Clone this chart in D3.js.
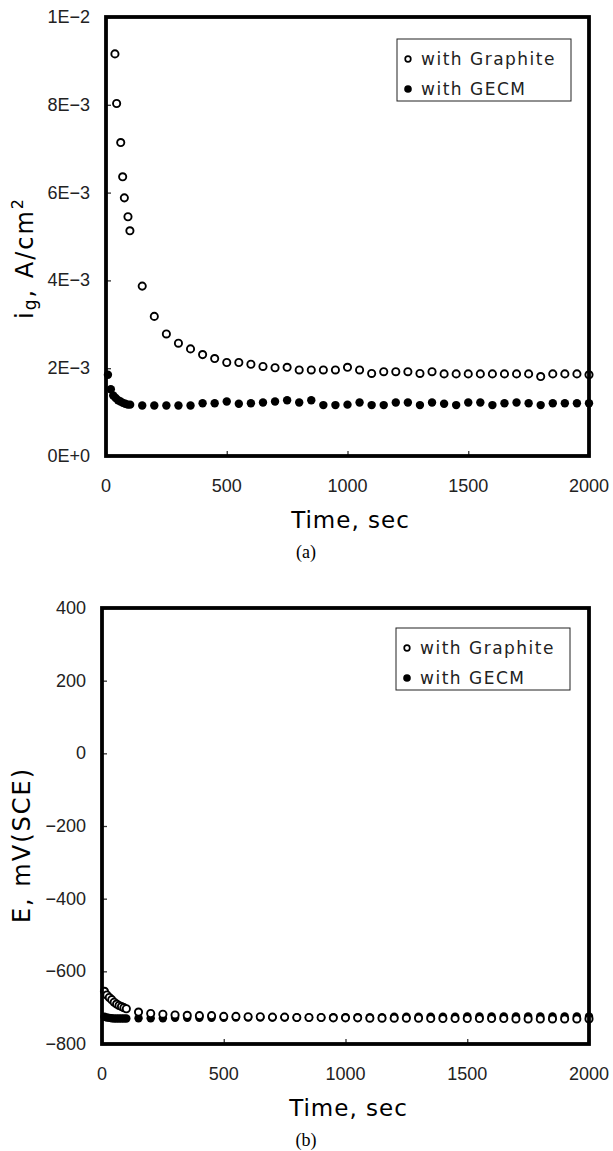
<!DOCTYPE html>
<html><head><meta charset="utf-8">
<script src="https://cdn.jsdelivr.net/npm/d3@7"></script>
<style>
html,body{margin:0;padding:0;background:#fff;}
svg{display:block;}
</style></head>
<body>
<svg id="c" width="613" height="1151"></svg>
<script>
// ---- Data: chart (a) current density ----
const timeA_graphite = [37,44,61,69,76,91,99,150,200,250,300,350,400,450,500,550,600,650,700,750,800,850,900,950,1000,1050,1100,1150,1200,1250,1300,1350,1400,1450,1500,1550,1600,1650,1700,1750,1800,1850,1900,1950,2000];
const igGraphite = [9.16e-3,8.03e-3,7.14e-3,6.36e-3,5.88e-3,5.45e-3,5.13e-3,3.87e-3,3.18e-3,2.78e-3,2.57e-3,2.44e-3,2.31e-3,2.22e-3,2.13e-3,2.13e-3,2.09e-3,2.04e-3,2.01e-3,2.02e-3,1.96e-3,1.96e-3,1.96e-3,1.96e-3,2.02e-3,1.96e-3,1.88e-3,1.92e-3,1.92e-3,1.92e-3,1.88e-3,1.92e-3,1.87e-3,1.87e-3,1.87e-3,1.87e-3,1.87e-3,1.87e-3,1.87e-3,1.87e-3,1.81e-3,1.87e-3,1.87e-3,1.87e-3,1.85e-3];
const timeA_gecm = [8,20,30,40,50,60,70,80,90,100,150,200,250,300,350,400,450,500,550,600,650,700,750,800,850,900,950,1000,1050,1100,1150,1200,1250,1300,1350,1400,1450,1500,1550,1600,1650,1700,1750,1800,1850,1900,1950,2000];
const igGecm = [1.85e-3,1.52e-3,1.38e-3,1.32e-3,1.27e-3,1.24e-3,1.21e-3,1.19e-3,1.17e-3,1.17e-3,1.15e-3,1.15e-3,1.15e-3,1.15e-3,1.15e-3,1.20e-3,1.20e-3,1.24e-3,1.19e-3,1.20e-3,1.22e-3,1.24e-3,1.27e-3,1.22e-3,1.27e-3,1.16e-3,1.16e-3,1.17e-3,1.22e-3,1.16e-3,1.16e-3,1.22e-3,1.22e-3,1.16e-3,1.22e-3,1.19e-3,1.16e-3,1.22e-3,1.22e-3,1.16e-3,1.20e-3,1.22e-3,1.20e-3,1.16e-3,1.20e-3,1.20e-3,1.20e-3,1.20e-3];
const yTicksA = [0,0.002,0.004,0.006,0.008,0.01];
const yTickLabelsA = ["0E+0","2E\u22123","4E\u22123","6E\u22123","8E\u22123","1E\u22122"];

// ---- Data: chart (b) potential ----
const timeB_graphite = [10,20,30,40,50,60,70,80,90,100,150,200,250,300,350,400,450,500,550,600,650,700,750,800,850,900,950,1000,1050,1100,1150,1200,1250,1300,1350,1400,1450,1500,1550,1600,1650,1700,1750,1800,1850,1900,1950,2000];
const eGraphite = [-655,-665,-672,-678,-685,-690,-694,-697,-700,-703,-712,-716,-718,-720,-721,-722,-722,-724,-724,-725,-725,-726,-726,-727,-727,-727,-728,-728,-728,-729,-729,-729,-729,-729,-730,-730,-730,-730,-730,-730,-730,-731,-731,-731,-731,-731,-731,-731];
const timeB_gecm = [10,20,30,40,50,60,70,80,90,100,150,200,250,300,350,400,450,500,550,600,650,700,750,800,850,900,950,1000,1050,1100,1150,1200,1250,1300,1350,1400,1450,1500,1550,1600,1650,1700,1750,1800,1850,1900,1950,2000];
const eGecm = [-725,-727,-728,-729,-730,-730,-730,-730,-730,-730,-729,-729,-729,-728,-728,-728,-728,-728,-727,-727,-727,-727,-727,-727,-727,-727,-726,-726,-726,-726,-726,-725,-725,-725,-725,-725,-725,-724,-724,-724,-724,-724,-724,-724,-724,-724,-724,-724];
const yTicksB = [-800,-600,-400,-200,0,200,400];
const yTickLabelsB = ["\u2212800","\u2212600","\u2212400","\u2212200","0","200","400"];

const xTicks = [0,500,1000,1500,2000];
const xTickLabels = ["0","500","1000","1500","2000"];
const seriesNames = ["with Graphite","with GECM"];

const svg = d3.select("#c");
const tickFont = "'Liberation Sans', Arial, sans-serif";
const titleFont = "'DejaVu Sans', sans-serif";

function drawChart(o){
  const x = d3.scaleLinear().domain([0,2000]).range([o.left,o.right]);
  const y = d3.scaleLinear().domain(o.yDomain).range([o.bottom,o.top]);
  const g = svg.append("g");

  // inward ticks
  const xAxis = d3.axisTop(x).tickValues(xTicks).tickSize(5).tickFormat("");
  g.append("g").attr("transform",`translate(0,${o.bottom})`).call(xAxis)
    .call(s=>{s.select(".domain").remove(); s.selectAll("line").attr("stroke","#333").attr("stroke-width",1.3);});
  const yAxis = d3.axisRight(y).tickValues(o.yTicks).tickSize(5).tickFormat("");
  g.append("g").attr("transform",`translate(${o.left},0)`).call(yAxis)
    .call(s=>{s.select(".domain").remove(); s.selectAll("line").attr("stroke","#333").attr("stroke-width",1.3);});

  // tick labels
  g.append("g").selectAll("text").data(xTicks).join("text")
    .attr("x",d=>x(d)).attr("y",o.bottom+36)
    .attr("text-anchor","middle").attr("font-family",tickFont).attr("font-size",18)
    .attr("fill","#222").text((d,i)=>xTickLabels[i]);
  g.append("g").selectAll("text").data(o.yTicks).join("text")
    .attr("x",o.left-16).attr("y",d=>y(d)+6)
    .attr("text-anchor","end").attr("font-family",tickFont).attr("font-size",18)
    .attr("fill","#222").text((d,i)=>o.yTickLabels[i]);

  // data
  const gp = g.append("g");
  gp.selectAll("circle.gecm").data(o.gecmT).join("circle").attr("class","gecm")
    .attr("cx",d=>x(d)).attr("cy",(d,i)=>y(o.gecmV[i])).attr("r",4.2).attr("fill","#000");
  gp.selectAll("circle.gra").data(o.graT).join("circle").attr("class","gra")
    .attr("cx",d=>x(d)).attr("cy",(d,i)=>y(o.graV[i])).attr("r",3.6)
    .attr("fill","#fff").attr("stroke","#000").attr("stroke-width",1.9);

  // frame
  g.append("rect").attr("x",o.left).attr("y",o.top).attr("width",o.right-o.left).attr("height",o.bottom-o.top)
    .attr("fill","none").attr("stroke","#000").attr("stroke-width",3.8);

  // legend
  const L = o.legend;
  const lg = g.append("g");
  lg.append("rect").attr("x",L.x).attr("y",L.y).attr("width",L.w).attr("height",L.h)
    .attr("fill","#fff").attr("stroke","#222").attr("stroke-width",1);
  seriesNames.forEach((name,i)=>{
    const cy = L.y + 20 + i*30;
    if(i===0){
      lg.append("circle").attr("cx",L.x+11).attr("cy",cy).attr("r",2.8).attr("fill","#fff").attr("stroke","#000").attr("stroke-width",1.7);
    } else {
      lg.append("circle").attr("cx",L.x+11).attr("cy",cy).attr("r",3.8).attr("fill","#000");
    }
    lg.append("text").attr("x",L.x+24).attr("y",cy+6).attr("font-family",titleFont).attr("font-size",17)
      .attr("letter-spacing",1.5).attr("fill","#222").text(name);
  });

  // x title
  g.append("text").attr("x",(o.left+o.right)/2+3).attr("y",o.bottom+72).attr("text-anchor","middle")
    .attr("font-family",titleFont).attr("font-size",23).attr("letter-spacing",1).attr("fill","#000").text("Time, sec");
  // caption
  g.append("text").attr("x",306).attr("y",o.bottom+102).attr("text-anchor","middle")
    .attr("font-family","'Liberation Serif','Times New Roman',serif").attr("font-size",18).attr("fill","#000").text(o.caption);
  return g;
}

const gA = drawChart({left:106,right:589,top:17,bottom:456,yDomain:[0,0.01],yTicks:yTicksA,yTickLabels:yTickLabelsA,
  graT:timeA_graphite,graV:igGraphite,gecmT:timeA_gecm,gecmV:igGecm,
  legend:{x:397,y:39,w:174,h:62},caption:"(a)"});
const gB = drawChart({left:102,right:589,top:608,bottom:1044,yDomain:[-800,400],yTicks:yTicksB,yTickLabels:yTickLabelsB,
  graT:timeB_graphite,graV:eGraphite,gecmT:timeB_gecm,gecmV:eGecm,
  legend:{x:396,y:628,w:174,h:62},caption:"(b)"});

// y titles
const ta = svg.append("text").attr("transform","translate(33,258) rotate(-90)").attr("text-anchor","middle")
  .attr("font-family",titleFont).attr("font-size",24).attr("letter-spacing",2).attr("fill","#000");
ta.append("tspan").text("i");
ta.append("tspan").attr("font-size",17).attr("dy",3).text("g");
ta.append("tspan").attr("dy",-3).text(", A/cm");
ta.append("tspan").attr("font-size",16).attr("dy",-10).text("2");
svg.append("text").attr("transform","translate(30,845) rotate(-90)").attr("text-anchor","middle")
  .attr("font-family",titleFont).attr("font-size",24).attr("letter-spacing",2).attr("fill","#000").text("E, mV(SCE)");
</script>
</body></html>
